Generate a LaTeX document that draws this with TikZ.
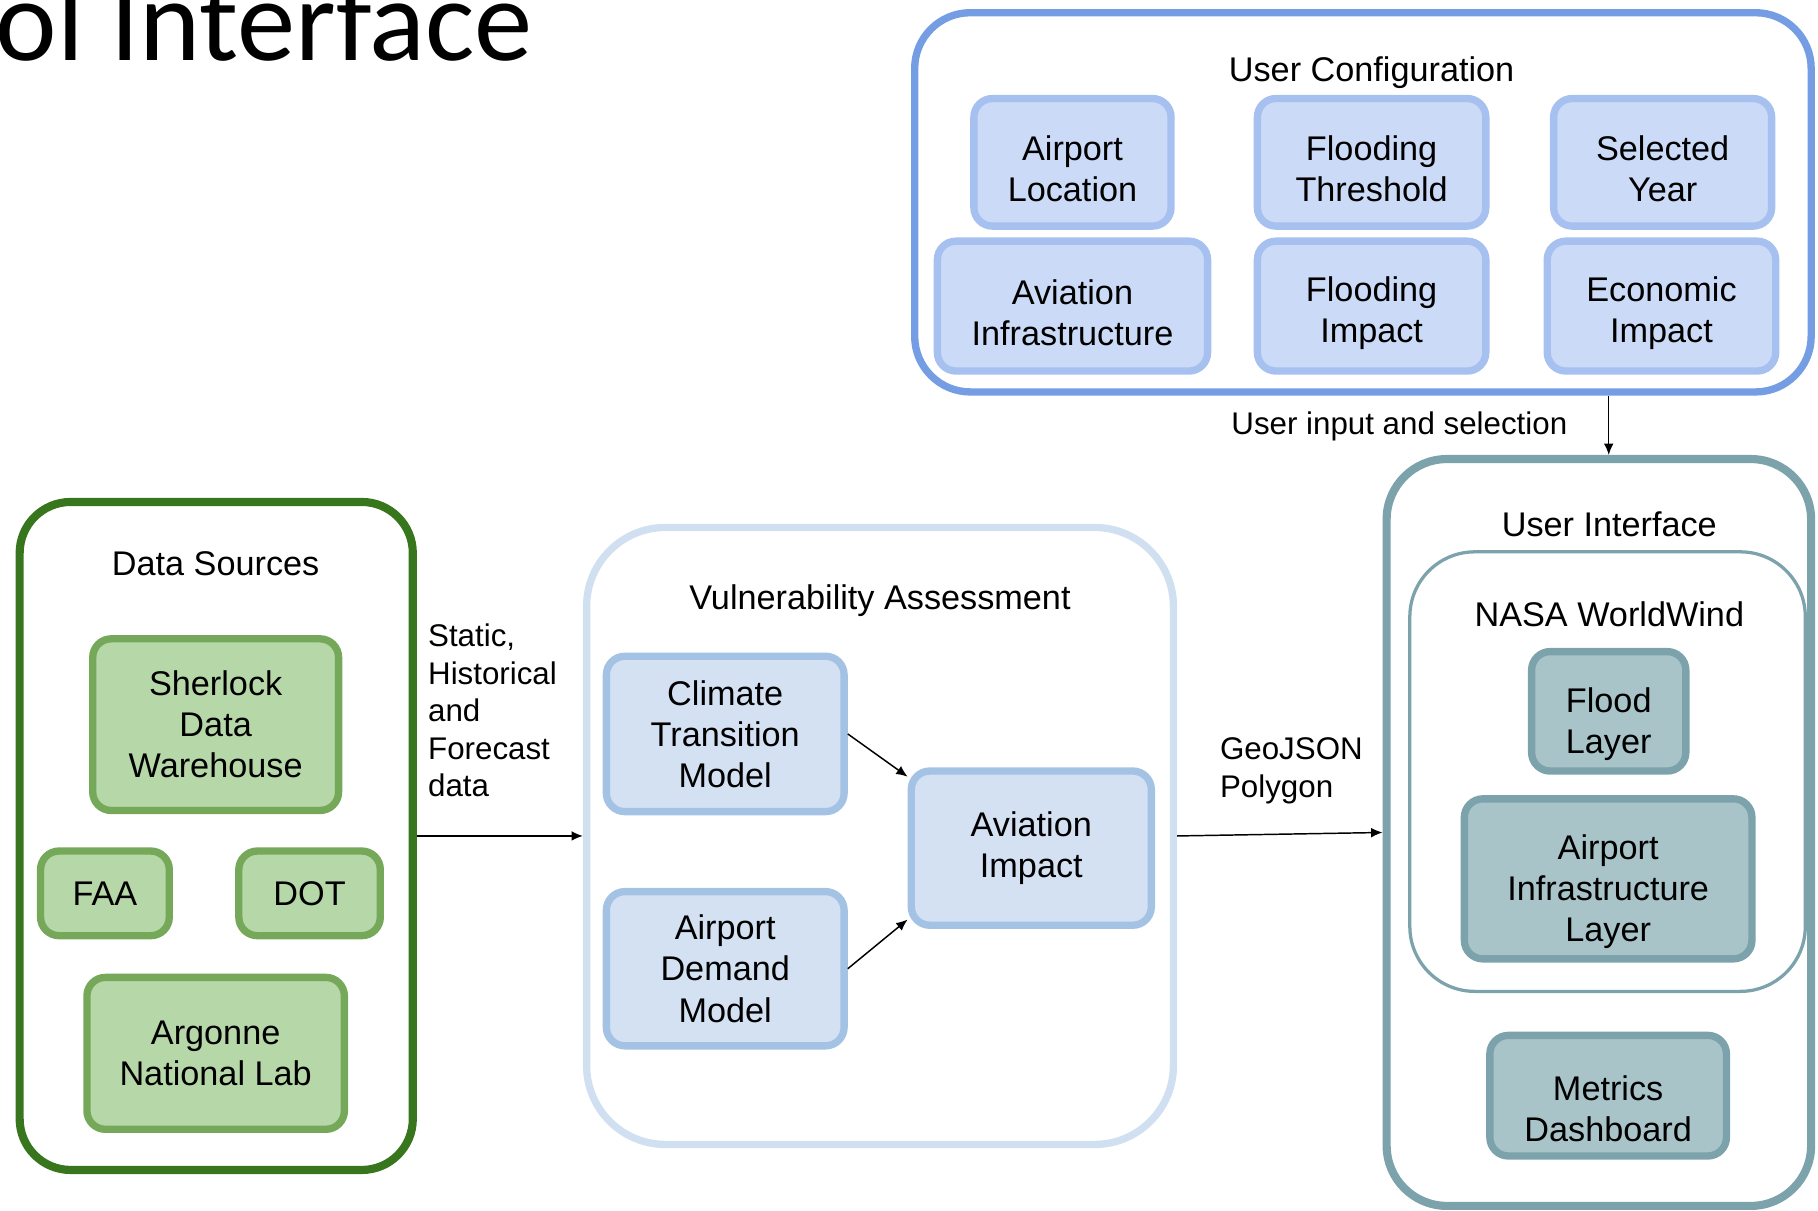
\documentclass[tikz,border=0pt]{standalone}
\usepackage{fontspec}
\setmainfont{Liberation Sans}
\newfontfamily\slidefont{Carlito}
\usetikzlibrary{arrows.meta, positioning, calc}

\definecolor{dsgreen}{RGB}{56,118,29}
\definecolor{srcline}{RGB}{118,168,89}
\definecolor{srcfill}{RGB}{182,215,168}
\definecolor{valine}{RGB}{208,224,241}
\definecolor{modelline}{RGB}{164,194,228}
\definecolor{modelfill}{RGB}{211,225,242}
\definecolor{ucline}{RGB}{116,157,227}
\definecolor{cfgline}{RGB}{166,192,240}
\definecolor{cfgfill}{RGB}{203,218,246}
\definecolor{uiline}{RGB}{124,162,171}
\definecolor{layerfill}{RGB}{168,196,201}

% Abstand oben im Kasten (Text etwas tiefer setzen)
\newcommand{\cfgpad}{\rule{0pt}{23.5pt}}
\newcommand{\layerpad}{\rule{0pt}{31pt}}

\begin{document}
\begin{tikzpicture}[
    x=0.025cm, y=-0.025cm,
    every node/.style={font=\fontsize{21}{25.2}\selectfont, align=center},
    box/.style={draw, line width=4.5pt, rounded corners=0.4cm, inner sep=2pt},
    src/.style={box, draw=srcline, fill=srcfill},
    model/.style={box, draw=modelline, fill=modelfill},
    cfg/.style={box, draw=cfgline, fill=cfgfill},
    layer/.style={box, draw=uiline, fill=layerfill},
    group/.style={draw, inner sep=0pt},
    flow/.style={-{Latex[length=7pt,width=6pt]}, line width=0.9pt},
    lbl/.style={align=left, inner sep=0pt, font=\fontsize{19.2}{23}\selectfont}
  ]
  \useasboundingbox (0,0) rectangle (1568,1044);

  \node[anchor=base west, inner sep=0pt, font=\slidefont\fontsize{71.5}{86}\selectfont] (slidetitle) at (-4,52) {ol Interface};

  % Konfiguration
  \node[group, draw=ucline, line width=4.5pt, rounded corners=1.2cm, minimum width=19.325cm, minimum height=8.175cm] (uc) at (1175.5,174.5) {};
  \node (uctitle) at (1183,63) {User Configuration};
  \node[cfg, minimum width=4.25cm,  minimum height=2.75cm] (aloc)  at (925,140)  {\cfgpad Airport\\Location};
  \node[cfg, minimum width=4.925cm, minimum height=2.75cm] (fthr)  at (1183,140) {\cfgpad Flooding\\Threshold};
  \node[cfg, minimum width=4.7cm,   minimum height=2.75cm] (syear) at (1434,140) {\cfgpad Selected\\Year};
  \node[cfg, minimum width=5.825cm, minimum height=2.8cm]  (ainf)  at (925,264)  {\cfgpad Aviation\\Infrastructure};
  \node[cfg, minimum width=4.925cm, minimum height=2.8cm]  (fimp)  at (1183,264) {\cfgpad Flooding\\Impact};
  \node[cfg, minimum width=4.925cm, minimum height=2.8cm]  (eimp)  at (1433,264) {\cfgpad Economic\\Impact};

  % Datenquellen
  \node[group, draw=dsgreen, line width=5pt, rounded corners=1.1cm, minimum width=8.475cm, minimum height=14.4cm] (ds) at (186.5,721) {};
  \node (dstitle) at (186,486) {Data Sources};
  \node[src, minimum width=5.3cm,   minimum height=3.7cm]   (sherlock) at (186,625)   {Sherlock\\Data\\Warehouse};
  \node[src, minimum width=2.775cm, minimum height=1.825cm] (faa)      at (90.5,770.5) {FAA};
  \node[src, minimum width=3.05cm,  minimum height=1.825cm] (dot)      at (267,770.5) {DOT};
  \node[src, minimum width=5.55cm,  minimum height=3.275cm] (argonne)  at (186,908.5) {Argonne\\National Lab};

  % Modelle
  \node[group, draw=valine, line width=4.5pt, rounded corners=1.7cm, minimum width=12.65cm, minimum height=13.3cm] (va) at (759,721) {};
  \node (vatitle) at (759,518) {Vulnerability Assessment};
  \node[model, minimum width=5.125cm, minimum height=3.35cm]  (ctm)  at (625.5,633)   {Climate\\Transition\\Model};
  \node[model, minimum width=5.125cm, minimum height=3.325cm] (adm)  at (625.5,835.5) {Airport\\Demand\\Model};
  \node[model, minimum width=5.175cm, minimum height=3.325cm] (aimp) at (889.5,731.5) {Aviation\\Impact};

  % Oberflaeche
  \node[group, draw=uiline, line width=5pt, rounded corners=1.3cm, minimum width=9.15cm, minimum height=16.1cm] (ui) at (1379,718) {};
  \node (uititle) at (1388,452) {User Interface};
  \node[group, draw=uiline, line width=2pt, rounded corners=1.4cm, minimum width=8.525cm, minimum height=9.475cm] (nasa) at (1386.5,665.5) {};
  \node (nasatitle) at (1388,530) {NASA WorldWind};
  \node[layer, minimum width=3.325cm, minimum height=2.575cm] (flood)   at (1387.5,613.5) {\layerpad Flood\\Layer};
  \node[layer, minimum width=6.2cm,   minimum height=3.45cm]  (aiflay)  at (1387,758)     {\layerpad Airport\\Infrastructure\\Layer};
  \node[layer, minimum width=5.1cm,   minimum height=2.6cm]   (metrics) at (1387,945)     {\layerpad Metrics\\Dashboard};

  \draw[flow] (ds.east) -- (va.west);
  \draw[flow] (va.east) -- (ui.west);
  \draw[flow] (ctm.east) -- (aimp.150);
  \draw[flow] (adm.east) -- (aimp.210);
  \draw[flow] (uc.south -| flood.center) -- (ui.north -| flood.center);

  \node[lbl, anchor=west] (staticlbl) at (369,613) {Static,\\Historical\\and\\Forecast\\data};
  \node[lbl, anchor=west] (geolbl) at (1052,665) {GeoJSON\\Polygon};
  \node[lbl, anchor=east] (inputlbl) at (1352,368) {User input and selection};
\end{tikzpicture}
\end{document}
